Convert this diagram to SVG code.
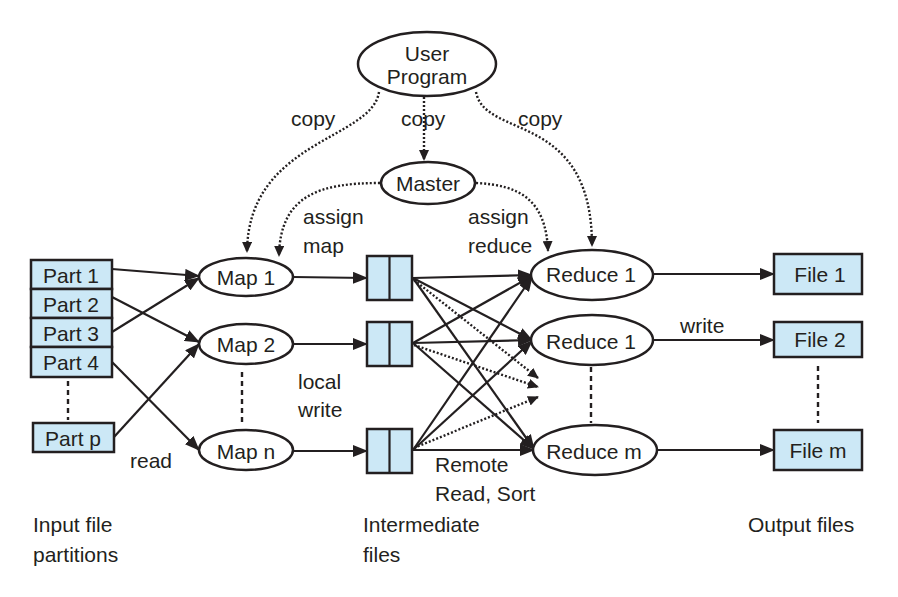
<svg xmlns="http://www.w3.org/2000/svg" width="898" height="597" viewBox="0 0 898 597">
<defs>
<style>
text{font-family:"Liberation Sans",Arial,sans-serif;font-size:21px;fill:#231f20}
.c{text-anchor:middle}
.node{fill:#fff;stroke:#231f20;stroke-width:2.5}
.box{fill:#cce8f6;stroke:#231f20;stroke-width:2.5}
.ln{fill:none;stroke:#231f20;stroke-width:2.2}
.dt{fill:none;stroke:#231f20;stroke-width:2.4;stroke-dasharray:2 2}
.vd{fill:none;stroke:#231f20;stroke-width:2.4;stroke-dasharray:5 4}
</style>
<marker id="ah" markerUnits="userSpaceOnUse" markerWidth="15" markerHeight="12" refX="14" refY="6" orient="auto"><path d="M0,0 L15,6 L0,12 Z" fill="#231f20"/></marker>
<marker id="ad" markerUnits="userSpaceOnUse" markerWidth="11" markerHeight="10" refX="10" refY="5" orient="auto"><path d="M0,0 L11,5 L0,10 Z" fill="#231f20"/></marker>
</defs>
<rect width="898" height="597" fill="#fff"/>
<g id="connectors">
<path class="dt" d="M379,92 C372,140 248,140 247,252" marker-end="url(#ad)"/>
<path class="dt" d="M424,97 L424,160" marker-end="url(#ad)"/>
<path class="dt" d="M476,92 C485,140 592,110 592,246" marker-end="url(#ad)"/>
<path class="dt" d="M380,183 C320,183 280,195 279,256" marker-end="url(#ad)"/>
<path class="dt" d="M476,183 C520,185 546,200 548,251" marker-end="url(#ad)"/>
<path class="ln" d="M112,269 L199,276" marker-end="url(#ah)"/>
<path class="ln" d="M112,297 L199,342" marker-end="url(#ah)"/>
<path class="ln" d="M112,332 L199,278" marker-end="url(#ah)"/>
<path class="ln" d="M112,362 L199,450" marker-end="url(#ah)"/>
<path class="ln" d="M114,437 L199,344" marker-end="url(#ah)"/>
<path class="ln" d="M293,277 L367,278" marker-end="url(#ah)"/>
<path class="ln" d="M293,344 L367,344" marker-end="url(#ah)"/>
<path class="ln" d="M293,451 L367,451" marker-end="url(#ah)"/>
<path class="ln" d="M413,278 L532,275" marker-end="url(#ah)"/>
<path class="ln" d="M413,278 L532,340" marker-end="url(#ah)"/>
<path class="ln" d="M413,278 L534,449" marker-end="url(#ah)"/>
<path class="ln" d="M413,343 L532,276" marker-end="url(#ah)"/>
<path class="ln" d="M413,343 L532,340" marker-end="url(#ah)"/>
<path class="ln" d="M413,343 L534,449" marker-end="url(#ah)"/>
<path class="ln" d="M413,450 L532,277" marker-end="url(#ah)"/>
<path class="ln" d="M413,450 L532,341" marker-end="url(#ah)"/>
<path class="ln" d="M413,450 L534,450" marker-end="url(#ah)"/>
<path class="dt" d="M414,280 L538,378" marker-end="url(#ad)"/>
<path class="dt" d="M414,345 L538,387" marker-end="url(#ad)"/>
<path class="dt" d="M414,448 L538,397" marker-end="url(#ad)"/>
<path class="ln" d="M653,274 L774,274" marker-end="url(#ah)"/>
<path class="ln" d="M653,340 L774,340" marker-end="url(#ah)"/>
<path class="ln" d="M657,450 L774,450" marker-end="url(#ah)"/>
<path class="vd" d="M68,381 L68,420"/>
<path class="vd" d="M242,372 L242,422"/>
<path class="vd" d="M591,367 L591,423"/>
<path class="vd" d="M818,366 L818,423"/>
</g>
<g id="user-program"><ellipse class="node" cx="427" cy="64" rx="69" ry="32"/><text class="c" x="427" y="61">User</text><text class="c" x="427" y="84">Program</text></g>
<g id="master"><ellipse class="node" cx="428" cy="183" rx="47" ry="21"/><text class="c" x="428" y="191">Master</text></g>
<g id="part1"><rect class="box" x="31" y="260" width="81" height="29"/><text class="c" x="71" y="283">Part 1</text></g>
<g id="part2"><rect class="box" x="31" y="289" width="81" height="29"/><text class="c" x="71" y="312">Part 2</text></g>
<g id="part3"><rect class="box" x="31" y="318" width="81" height="29"/><text class="c" x="71" y="341">Part 3</text></g>
<g id="part4"><rect class="box" x="31" y="347" width="81" height="30"/><text class="c" x="71" y="370">Part 4</text></g>
<g id="partp"><rect class="box" x="33" y="423" width="81" height="29"/><text class="c" x="73" y="446">Part p</text></g>
<g id="map1"><ellipse class="node" cx="246" cy="277" rx="47" ry="19"/><text class="c" x="246" y="285">Map 1</text></g>
<g id="map2"><ellipse class="node" cx="246" cy="344" rx="47" ry="20"/><text class="c" x="246" y="352">Map 2</text></g>
<g id="mapn"><ellipse class="node" cx="246" cy="450" rx="47" ry="20"/><text class="c" x="246" y="459">Map n</text></g>
<g id="inter1"><rect class="box" x="367" y="256" width="45" height="44"/><line class="ln" x1="389.5" y1="256" x2="389.5" y2="300"/></g>
<g id="inter2"><rect class="box" x="367" y="322" width="45" height="44"/><line class="ln" x1="389.5" y1="322" x2="389.5" y2="366"/></g>
<g id="inter3"><rect class="box" x="367" y="429" width="45" height="44"/><line class="ln" x1="389.5" y1="429" x2="389.5" y2="473"/></g>
<g id="reduce1"><ellipse class="node" cx="592" cy="275" rx="61" ry="25"/><text class="c" x="591" y="282">Reduce 1</text></g>
<g id="reduce2"><ellipse class="node" cx="592" cy="340" rx="61" ry="25"/><text class="c" x="591" y="349">Reduce 1</text></g>
<g id="reducem"><ellipse class="node" cx="595" cy="450" rx="62" ry="25"/><text class="c" x="594" y="459">Reduce m</text></g>
<g id="file1"><rect class="box" x="774" y="254" width="88" height="40"/><text class="c" x="820" y="282">File 1</text></g>
<g id="file2"><rect class="box" x="774" y="322" width="88" height="35"/><text class="c" x="820" y="347">File 2</text></g>
<g id="filem"><rect class="box" x="774" y="430" width="88" height="40"/><text class="c" x="818" y="458">File m</text></g>
<g id="labels">
<text x="291" y="126">copy</text>
<text x="401" y="126">copy</text>
<text x="518" y="126">copy</text>
<text x="303" y="224">assign</text>
<text x="303" y="253">map</text>
<text x="468" y="224">assign</text>
<text x="468" y="253">reduce</text>
<text x="298" y="389">local</text>
<text x="298" y="417">write</text>
<text x="130" y="468">read</text>
<text x="435" y="472">Remote</text>
<text x="435" y="501">Read, Sort</text>
<text x="680" y="333">write</text>
<text x="33" y="532">Input file</text>
<text x="33" y="562">partitions</text>
<text x="363" y="532">Intermediate</text>
<text x="363" y="562">files</text>
<text x="748" y="532">Output files</text>
</g>
</svg>
